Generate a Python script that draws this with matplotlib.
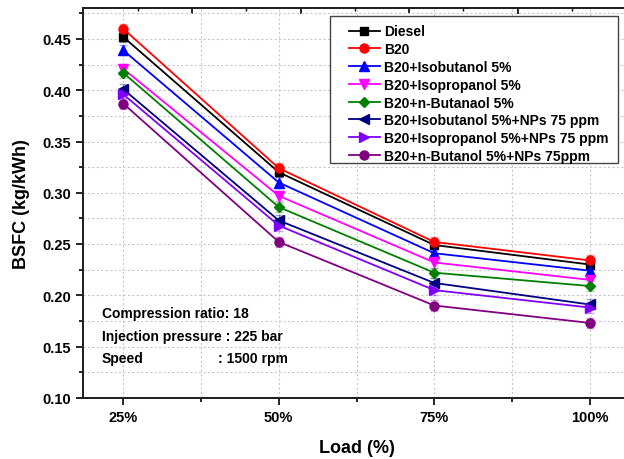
import matplotlib
matplotlib.use("Agg")
import matplotlib.pyplot as plt
from matplotlib.ticker import MultipleLocator, FixedLocator
from matplotlib.patches import Rectangle
import numpy as np

plt.rcParams['font.family'] = ['Liberation Sans', 'DejaVu Sans']
plt.rcParams['font.weight'] = 'bold'

loads = ['25%', '50%', '75%', '100%']
series_names = ['Diesel', 'B20', 'B20+Isobutanol 5%', 'B20+Isopropanol 5%',
                'B20+n-Butanaol 5%', 'B20+Isobutanol 5%+NPs 75 ppm',
                'B20+Isopropanol 5%+NPs 75 ppm', 'B20+n-Butanol 5%+NPs 75ppm']
diesel = [0.452, 0.320, 0.249, 0.230]
b20 = [0.460, 0.324, 0.252, 0.234]
b20_isobutanol = [0.439, 0.310, 0.241, 0.224]
b20_isopropanol = [0.421, 0.297, 0.232, 0.215]
b20_nbutanol = [0.417, 0.286, 0.222, 0.209]
b20_isobutanol_np = [0.401, 0.273, 0.212, 0.191]
b20_isopropanol_np = [0.396, 0.268, 0.205, 0.188]
b20_nbutanol_np = [0.387, 0.252, 0.190, 0.173]
errors = [0.005, 0.005, 0.005, 0.005]

values = [diesel, b20, b20_isobutanol, b20_isopropanol, b20_nbutanol,
          b20_isobutanol_np, b20_isopropanol_np, b20_nbutanol_np]
colors = ['#000000', '#ff0000', '#0000ff', '#ff00ff', '#008000',
          '#000080', '#8000ff', '#800080']
markers = ['s', 'o', '^', 'v', 'D', '<', '>', 'o']
msizes = [5.5, 6.5, 6.5, 6.5, 5.5, 6.5, 6.5, 6.5]

W, H = 624, 460
fig = plt.figure(figsize=(W / 100, H / 100), dpi=100)
left_px, right_px, top_px, bot_px = 83.3, 629.7, 9.25, 398.75
ax = fig.add_axes([left_px / W, 1 - bot_px / H, (right_px - left_px) / W, (bot_px - top_px) / H])

x = np.arange(len(loads))
for vals, c, m, ms, name in zip(values, colors, markers, msizes, series_names):
    ax.errorbar(x, vals, yerr=errors, fmt='none', ecolor=c, alpha=0.35,
                elinewidth=1.0, capsize=3, capthick=1.0, zorder=2)
    ax.plot(x, vals, color=c, marker=m, markersize=ms, lw=1.3, label=name, zorder=3)

ax.set_xlim(-0.257, 3.257)
ax.set_ylim(0.10, 0.48)
ax.set_xticks(x)
ax.set_xticklabels(loads)
ax.xaxis.set_minor_locator(MultipleLocator(0.5))
ax.yaxis.set_major_locator(FixedLocator([0.10, 0.15, 0.20, 0.25, 0.30, 0.35, 0.40, 0.45]))
ax.yaxis.set_minor_locator(MultipleLocator(0.025))
ax.yaxis.set_major_formatter(matplotlib.ticker.FormatStrFormatter('%.2f'))

ax.grid(True, which='both', color='#c8c8c8', linestyle=(0, (2, 2)), linewidth=0.8)
ax.set_axisbelow(True)

ax.tick_params(axis='both', which='major', direction='out', length=5, width=1.2,
               labelsize=10.5, pad=4, top=False, right=False)
ax.tick_params(axis='both', which='minor', direction='out', length=3, width=1.2,
               top=False, right=False)
for lab in ax.get_xticklabels() + ax.get_yticklabels():
    lab.set_fontweight('bold')
for sp in ax.spines.values():
    sp.set_linewidth(1.3)
    sp.set_color('#222222')

ax.set_xlabel('Load (%)', fontsize=13, fontweight='bold')
ax.set_ylabel('BSFC (kg/kWh)', fontsize=13, fontweight='bold')
ax.xaxis.set_label_coords(0.5, -0.107)
ax.yaxis.set_label_coords(-0.098, 0.5)

# secondary (unlabelled) top and right axes with their own ticks
axt = ax.twiny()
axt.set_xlim(0, 5.03)
axt.xaxis.set_major_locator(MultipleLocator(1))
axt.xaxis.set_minor_locator(MultipleLocator(0.5))
axt.tick_params(axis='x', which='major', direction='in', length=4.5, width=1.2, labeltop=False)
axt.tick_params(axis='x', which='minor', direction='in', length=2.5, width=1.0)
axr = ax.twinx()
axr.set_ylim(0, 5.0)
axr.yaxis.set_major_locator(MultipleLocator(1))
axr.yaxis.set_minor_locator(MultipleLocator(0.5))
axr.tick_params(axis='y', which='major', direction='in', length=4.5, width=1.2, labelright=False)
axr.tick_params(axis='y', which='minor', direction='in', length=2.5, width=1.0)
for a in (axt, axr):
    for sp in a.spines.values():
        sp.set_linewidth(1.3)
        sp.set_color('#222222')
    a.set_zorder(1)
ax.set_zorder(2)
ax.patch.set_visible(False)

# legend box (frame drawn separately to match the original margins)
box = Rectangle((330 / W, 1 - 164 / H), (618 - 330) / W, (164 - 16.7) / H,
                transform=fig.transFigure, facecolor='white', edgecolor='#444444',
                linewidth=1.0, zorder=9)
ax.add_artist(box)
box.set_clip_on(False)

leg = ax.legend(loc='upper left', bbox_to_anchor=(349 / W, 1 - 25.5 / H),
                bbox_transform=fig.transFigure, borderaxespad=0,
                frameon=False, handlelength=2.2, handletextpad=0.3, labelspacing=0.27,
                borderpad=0.0, prop={'weight': 'bold', 'size': 10})
leg.set_zorder(10)

tx1 = 0.034
ax.text(tx1, 0.2176, 'Compression ratio: 18', transform=ax.transAxes, fontsize=10,
        fontweight='bold', va='center', ha='left')
ax.text(tx1, 0.1593, 'Injection pressure : 225 bar', transform=ax.transAxes, fontsize=10,
        fontweight='bold', va='center', ha='left')
ax.text(tx1, 0.1013, 'Speed', transform=ax.transAxes, fontsize=10,
        fontweight='bold', va='center', ha='left')
ax.text(0.247, 0.1013, ': 1500 rpm', transform=ax.transAxes, fontsize=10,
        fontweight='bold', va='center', ha='left')

fig.savefig('out.png', dpi=100)
